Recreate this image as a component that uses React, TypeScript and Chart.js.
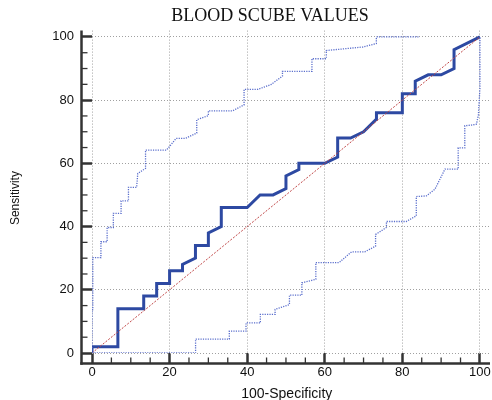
import React, { useEffect, useRef } from 'react';
import { Chart, registerables } from 'chart.js';

Chart.register(...registerables);

const chartTitle = 'BLOOD SCUBE VALUES';
const xAxisTitle = '100-Specificity';
const yAxisTitle = 'Sensitivity';
const xTickValues = [0, 20, 40, 60, 80, 100];
const yTickValues = [0, 20, 40, 60, 80, 100];
const minorTickValues = [5, 10, 15, 25, 30, 35, 45, 50, 55, 65, 70, 75, 85, 90, 95];

// ROC curve (100-Specificity, Sensitivity)
const rocX = [0, 0, 6.67, 6.67, 13.33, 13.33, 16.67, 16.67, 20, 20, 23.33, 23.33, 26.67, 26.67, 30, 30, 33.33, 33.33, 40, 43.33, 46.67, 50, 50, 53.33, 53.33, 60, 63.33, 63.33, 66.67, 70, 73.33, 73.33, 80, 80, 83.33, 83.33, 86.67, 90, 93.33, 93.33, 100];
const rocY = [0, 2, 2, 14, 14, 18, 18, 22, 22, 26, 26, 28, 30, 34, 34, 38, 40, 46, 46, 50, 50, 52, 56, 58, 60, 60, 62, 68, 68, 70, 74, 76, 76, 82, 82, 86, 88, 88, 90, 96, 100];

// Upper 95% confidence bound
const upperX = [0, 0, 0.2, 0.2, 2.3, 2.3, 3.9, 3.9, 5.5, 5.5, 7.5, 7.5, 9.4, 9.4, 11.5, 11.8, 13.8, 13.8, 19.2, 21.7, 24.1, 27, 27, 30, 30, 36.2, 39.2, 39.2, 42.7, 46.1, 49.1, 49.1, 56.7, 56.7, 60.4, 60.4, 69.8, 73.3, 73.3, 84.5];
const upperY = [0, 13.7, 13.7, 30.2, 30.2, 35.2, 35.2, 39.7, 39.7, 44.2, 44.2, 48.1, 48.1, 52.4, 52.4, 56.8, 58.4, 64.2, 64.2, 67.9, 67.9, 69.6, 73.8, 75.1, 76.6, 76.6, 78.5, 83.4, 83.4, 84.9, 87.6, 89.1, 89.1, 93.1, 93.1, 95.7, 96.8, 97.9, 100, 100];

// Lower 95% confidence bound
const lowerX = [0, 26.7, 26.7, 35.4, 35.4, 39.7, 39.7, 43.4, 43.4, 47.2, 47.2, 50.9, 50.9, 54.1, 54.1, 57.7, 57.7, 63.7, 66.9, 70.3, 73.1, 73.1, 75.9, 75.9, 81, 83.6, 83.6, 86.2, 88.4, 91, 94.4, 94.4, 96.1, 96.1, 97.8, 99.1, 99.6, 100, 100];
const lowerY = [0, 0, 4.4, 4.4, 6.9, 6.9, 9.5, 9.5, 12.2, 12.2, 13.8, 15.3, 18.3, 18.3, 22.2, 23.3, 28.6, 28.6, 32, 32, 33.8, 37.5, 39.7, 41.6, 41.6, 43.4, 49.5, 49.7, 51.8, 58.2, 58.2, 64.9, 64.9, 71.9, 72.1, 72.4, 75.2, 83.6, 100];

// Reference diagonal
const diagX = [0, 100];
const diagY = [0, 100];

const toPoints = (xs: number[], ys: number[]) => xs.map((x, i) => ({ x, y: ys[i] }));

const SANS = '"Liberation Sans", Arial, Helvetica, sans-serif';
const TICK_LEN = 11;

const axisDecor = {
  id: 'axisDecor',
  afterDraw(chart: any) {
    const { ctx, chartArea, scales } = chart;
    const xs = scales.x;
    const ys = scales.y;
    const axisX = chartArea.left - TICK_LEN + 0.5;
    const axisY = chartArea.bottom + TICK_LEN - 0.5;
    ctx.save();
    ctx.strokeStyle = '#333';
    ctx.lineWidth = 2.5;
    ctx.beginPath();
    ctx.moveTo(axisX, chartArea.top);
    ctx.lineTo(axisX, axisY + 1.25);
    ctx.stroke();
    ctx.beginPath();
    ctx.moveTo(axisX - 1.25, axisY);
    ctx.lineTo(chartArea.right, axisY);
    ctx.stroke();
    ctx.lineWidth = 1.3;
    minorTickValues.forEach((v) => {
      const py = ys.getPixelForValue(v);
      ctx.beginPath();
      ctx.moveTo(axisX, py);
      ctx.lineTo(axisX + 6, py);
      ctx.stroke();
      const px = xs.getPixelForValue(v);
      ctx.beginPath();
      ctx.moveTo(px, axisY);
      ctx.lineTo(px, axisY - 6);
      ctx.stroke();
    });
    ctx.fillStyle = '#111';
    ctx.font = '14px ' + SANS;
    ctx.textAlign = 'center';
    ctx.textBaseline = 'alphabetic';
    ctx.fillText(xAxisTitle, (axisX + chartArea.right) / 2 + 1, chart.height - 2.5);
    ctx.font = '12px ' + SANS;
    ctx.translate(16, (chartArea.top + axisY) / 2 + 1);
    ctx.rotate(-Math.PI / 2);
    ctx.textBaseline = 'middle';
    ctx.fillText(yAxisTitle, 0, 0);
    ctx.restore();
  },
};

export default function App() {
  const canvasRef = useRef<HTMLCanvasElement | null>(null);

  useEffect(() => {
    const canvas = canvasRef.current;
    if (!canvas) return;
    const gridCommon = {
      color: '#a0a0a0',
      lineWidth: 1,
      drawTicks: true,
      tickLength: TICK_LEN,
      tickColor: '#333',
      tickWidth: 2.5,
      tickBorderDash: [],
    };
    const chart = new Chart(canvas, {
      type: 'scatter',
      data: {
        datasets: [
          {
            label: 'Upper bound',
            data: toPoints(upperX, upperY),
            showLine: true,
            borderColor: '#5a6ecc',
            borderWidth: 1.3,
            borderDash: [1.2, 1.2],
            pointRadius: 0,
            fill: false,
          },
          {
            label: 'Lower bound',
            data: toPoints(lowerX, lowerY),
            showLine: true,
            borderColor: '#5a6ecc',
            borderWidth: 1.3,
            borderDash: [1.2, 1.2],
            pointRadius: 0,
            fill: false,
          },
          {
            label: 'Reference',
            data: toPoints(diagX, diagY),
            showLine: true,
            borderColor: '#c04848',
            borderWidth: 1,
            borderDash: [2, 1.5],
            pointRadius: 0,
            fill: false,
          },
          {
            label: 'ROC',
            data: toPoints(rocX, rocY),
            showLine: true,
            borderColor: '#2d49a2',
            borderWidth: 3,
            pointRadius: 0,
            fill: false,
          },
        ],
      },
      options: {
        animation: false,
        responsive: false,
        devicePixelRatio: 1,
        layout: { padding: { left: 50, right: 50, top: 0, bottom: 0 } },
        plugins: {
          legend: { display: false },
          tooltip: { enabled: false },
          title: {
            display: true,
            text: chartTitle,
            color: '#111',
            font: { family: '"Liberation Serif", "Times New Roman", serif', size: 18, weight: 'normal' },
            padding: { top: 5, bottom: 4 },
          },
        },
        scales: {
          x: {
            type: 'linear',
            min: 0,
            max: 102.6,
            afterBuildTicks: (s: any) => {
              s.ticks = xTickValues.map((v) => ({ value: v }));
            },
            afterFit: (s: any) => {
              s.height = 47;
            },
            grid: gridCommon,
            border: { display: false, dash: [1, 2] },
            ticks: { color: '#111', font: { family: SANS, size: 13 }, padding: 1, maxRotation: 0 },
          },
          y: {
            type: 'linear',
            min: 0,
            max: 102,
            afterBuildTicks: (s: any) => {
              s.ticks = yTickValues.map((v) => ({ value: v }));
            },
            afterFit: (s: any) => {
              s.width = 42;
            },
            grid: gridCommon,
            border: { display: false, dash: [1, 2] },
            ticks: { color: '#111', font: { family: SANS, size: 13 }, padding: 7 },
          },
        },
      } as any,
      plugins: [axisDecor],
    });
    return () => chart.destroy();
  }, []);

  return (
    <div style={{ position: 'fixed', left: 0, top: 0, width: 492, height: 400, overflow: 'hidden', background: '#fff' }}>
      <canvas ref={canvasRef} width={540} height={400} style={{ width: 540, height: 400, display: 'block' }} />
    </div>
  );
}
